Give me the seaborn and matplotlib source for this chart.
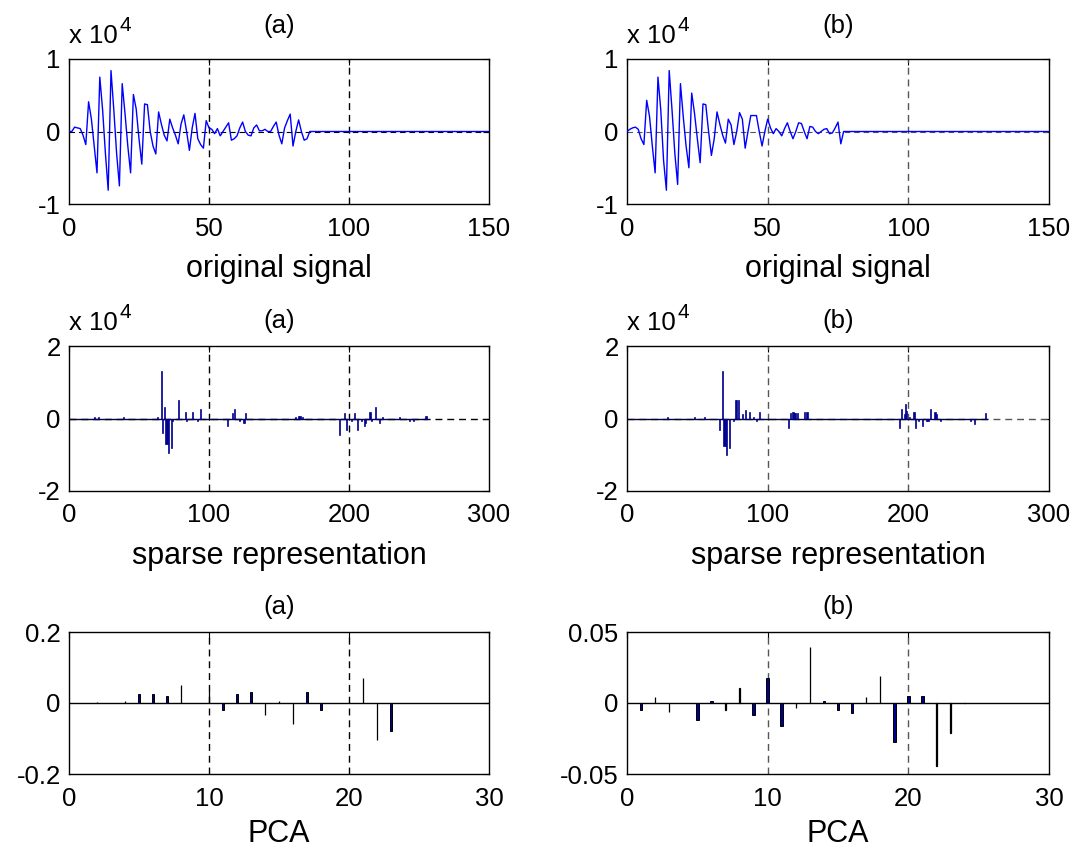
import matplotlib
matplotlib.use("Agg")
import matplotlib.pyplot as plt
import numpy as np
import seaborn as sns

W, H = 1079, 850
NAVY = "#00008F"

# original signals (x 1e4), one value per sample, zero after the last listed one
SIGNAL_LEN = 151
signal_a = [
    0.0, 0.0, 0.06, 0.05, 0.04, -0.05, -0.18, 0.41, 0.17, -0.2,
    -0.57, 0.75, 0.3, -0.3, -0.81, 0.84, 0.3, -0.3, -0.75, 0.66,
    0.25, -0.2, -0.57, 0.51, 0.31, -0.1, -0.45, 0.38, 0.37, 0.0,
    -0.2, -0.31, 0.27, 0.1, -0.05, -0.13, 0.17, 0.05, -0.05, -0.17,
    0.1, 0.23, 0.0, -0.26, 0.05, 0.25, -0.1, -0.18, -0.23, 0.15,
    0.05, 0.03, -0.03, 0.04, -0.06, 0.0, 0.06, 0.12, -0.12, -0.1,
    -0.06, 0.05, 0.13, 0.0, -0.05, -0.06, 0.05, 0.09, 0.01, 0.01,
    0.03, 0.0, 0.0, 0.07, 0.13, -0.05, -0.17, 0.05, 0.15, 0.24,
    -0.2, 0.0, 0.16, 0.0, -0.12, -0.1, 0.0,
]
signal_b = [
    0.0, 0.03, 0.05, 0.06, 0.03, -0.1, -0.18, 0.43, 0.21, -0.2,
    -0.57, 0.75, 0.3, -0.4, -0.81, 0.84, 0.3, -0.3, -0.73, 0.66,
    0.2, -0.2, -0.5, 0.53, 0.25, -0.1, -0.43, 0.38, 0.37, 0.0,
    -0.33, -0.1, 0.27, 0.1, -0.05, -0.16, 0.17, 0.09, -0.18, 0.0,
    0.26, 0.17, -0.23, 0.0, 0.22, 0.22, 0.22, 0.0, -0.2, 0.0,
    0.17, 0.05, -0.03, 0.04, 0.0, -0.06, 0.04, 0.12, 0.0, -0.1,
    0.0, 0.12, 0.11, 0.0, -0.1, 0.07, 0.06, 0.0, -0.03, 0.0,
    0.03, 0.04, -0.03, -0.02, 0.05, 0.13, -0.17, 0.0,
]

# sparse coefficients (x 1e4): index -> value, all others zero
SPARSE_LEN = 256
sparse_a_idx = [18, 21, 39, 63, 66, 67, 68, 69, 70, 71, 73, 74, 78, 83, 84, 88, 92, 94,
                113, 117, 118, 122, 125, 126, 162, 164, 165, 167,
                193, 197, 198, 202, 204, 206, 209, 211, 212, 215, 216, 219, 222, 224,
                236, 243, 246, 255]
sparse_a_val = [0.05, 0.05, 0.05, 0.055, 1.32, -0.40, 0.31, -0.70, -0.70, -0.96, -0.82, -0.08,
                0.50, 0.19, -0.08, 0.19, -0.08, 0.25,
                -0.21, 0.15, 0.25, -0.08, -0.13, 0.15, 0.05, 0.06, 0.06, 0.05,
                -0.45, 0.15, -0.33, -0.08, 0.15, -0.33, -0.06, -0.21, -0.13, 0.19, -0.08,
                0.31, -0.13, 0.05, 0.05, -0.08, -0.08, 0.07]
sparse_b_idx = [29, 48, 55, 66, 68, 69, 70, 71, 73, 76, 77, 78, 79, 82, 84, 87, 90, 92, 94,
                115, 116, 118, 119, 120, 121, 126, 128,
                194, 195, 197, 198, 199, 201, 204, 205, 207, 210, 213, 214, 216, 219, 220,
                223, 244, 247, 255]
sparse_b_val = [0.05, 0.05, 0.05, -0.33, 1.32, -0.75, -0.75, -1.0, -0.82, -0.08, 0.52, 0.52,
                0.52, 0.13, 0.24, 0.19, 0.05, -0.08, 0.19,
                -0.27, 0.15, 0.19, 0.15, 0.15, 0.15, 0.19, 0.19,
                -0.27, 0.25, 0.13, 0.39, 0.22, 0.05, 0.19, -0.27, -0.08, -0.21, -0.08,
                -0.08, 0.25, 0.19, 0.13, -0.08, -0.08, -0.15, 0.15]

# PCA coefficients, components 1..30
pca_a = [0.0, 0.004, 0.0, 0.005, 0.026, 0.026, 0.019, 0.051, 0.0, 0.035,
         -0.021, 0.026, 0.032, -0.035, 0.006, -0.059, 0.032, -0.021, 0.0, 0.0,
         0.07, -0.104, -0.079, 0.0, 0.0, 0.0, 0.0, 0.0, 0.0, 0.0]
pca_b = [-0.0052, 0.0045, -0.0066, 0.0, -0.0117, 0.0016, -0.0049, 0.0108, -0.0087, 0.0178,
         -0.0164, -0.0037, 0.0396, 0.0016, -0.0049, -0.0068, 0.0045, 0.0192, -0.0276, 0.0049,
         0.0049, -0.0447, -0.0208, 0.0, 0.0, 0.0, 0.0, 0.0, 0.0, 0.0]
# components drawn as filled bars, the rest render as hairlines
pca_a_thick = [5, 6, 7, 11, 12, 13, 17, 18, 23]
pca_b_thick = [1, 5, 6, 9, 10, 11, 14, 15, 16, 19, 20, 21]

TICK_FS = 18.5
LABEL_FS = 22


def make_axes(fig, left, top, width, height):
    return fig.add_axes([left / W, 1 - (top + height) / H, width / W, height / H])


def style_axes(ax, xlim, xticks, ylim, yticks, ylabels, vlines, dash_color, title, title_pad,
               xlabel, labelpad=10):
    ax.set_xlim(*xlim)
    ax.set_ylim(*ylim)
    ax.set_xticks(xticks)
    ax.set_xticklabels([str(t) for t in xticks])
    ax.set_yticks(yticks)
    ax.set_yticklabels(ylabels)
    for v in vlines:
        ax.axvline(v, color=dash_color, lw=1.0, dashes=(5, 3.5), zorder=1)
    ax.tick_params(axis="both", direction="in", length=4, width=0.8, top=True, right=True,
                   labelsize=TICK_FS, colors="black")
    ax.tick_params(axis="x", pad=9)
    ax.tick_params(axis="y", pad=6)
    for s in ax.spines.values():
        s.set_visible(True)
        s.set_color("black")
        s.set_linewidth(1.0)
    ax.set_title(title, fontsize=TICK_FS, pad=title_pad, color="black")
    ax.set_xlabel(xlabel, fontsize=LABEL_FS, labelpad=labelpad, color="black")
    ax.grid(False)


def add_exponent(ax, height):
    t = ax.text(0.0, 1 + 16 / height, "x 10", transform=ax.transAxes, fontsize=TICK_FS,
                ha="left", va="baseline", color="black")
    ax.annotate("4", xy=(1, 1), xycoords=t, xytext=(1.5, -1), textcoords="offset points",
                fontsize=15, ha="left", va="center", color="black")


def plot_signal(ax, values, dash_color):
    y = np.concatenate([values, np.zeros(SIGNAL_LEN - len(values))])
    ax.axhline(0, color=dash_color, lw=0.8, dashes=(5, 3.5), zorder=1)
    sns.lineplot(x=np.arange(SIGNAL_LEN), y=y, color="#0000FF", lw=1.0,
                 estimator=None, sort=False, ax=ax, zorder=3)


def plot_sparse(ax, idx, vals, dash_color):
    y = np.zeros(SPARSE_LEN)
    y[np.array(idx) - 1] = vals
    pos = np.arange(1, SPARSE_LEN + 1)
    ax.axhline(0, color=dash_color, lw=1.0, dashes=(5, 3.5), zorder=1)
    # bar baseline over the coefficient range
    ax.plot(np.concatenate([[0], pos]), np.zeros(SPARSE_LEN + 1), color="black", lw=1.0, zorder=2)
    ax.bar(pos, y, width=0.8, color=NAVY, edgecolor=NAVY, linewidth=0.5, zorder=3)


def plot_pca(ax, vals, thick):
    x = np.arange(1, len(vals) + 1)
    y = np.array(vals)
    mask = np.isin(x, thick)
    ax.axhline(0, color="black", lw=1.0, zorder=2)
    ax.bar(x[~mask], y[~mask], width=0.02, color="black", edgecolor="black",
           linewidth=0.9, zorder=3)
    ax.bar(x[mask], y[mask], width=0.2, color=NAVY, edgecolor="black",
           linewidth=0.7, zorder=3)


def main():
    sns.set_style("white")
    plt.rcParams["font.family"] = ["Liberation Sans", "DejaVu Sans"]
    plt.rcParams["axes.unicode_minus"] = False
    plt.rcParams["text.color"] = "black"
    plt.rcParams["axes.labelcolor"] = "black"
    plt.rcParams["xtick.color"] = "black"
    plt.rcParams["ytick.color"] = "black"

    fig = plt.figure(figsize=(W / 100, H / 100), dpi=100)
    fig.patch.set_facecolor("white")

    cols = [(69, 420, "black", "(a)"), (627, 422, "#555555", "(b)")]
    rows = [(59, 145), (346, 145), (632, 142)]
    signals = [signal_a, signal_b]
    sparse = [(sparse_a_idx, sparse_a_val), (sparse_b_idx, sparse_b_val)]
    pcas = [(pca_a, pca_a_thick, [-0.2, 0, 0.2], ["-0.2", "0", "0.2"]),
            (pca_b, pca_b_thick, [-0.05, 0, 0.05], ["-0.05", "0", "0.05"])]

    for c, (left, width, dash_color, tag) in enumerate(cols):
        top, height = rows[0]
        ax = make_axes(fig, left, top, width, height)
        plot_signal(ax, signals[c], dash_color)
        style_axes(ax, (0, 150), [0, 50, 100, 150], (-1, 1), [-1, 0, 1], ["-1", "0", "1"],
                   [50, 100], dash_color, tag, 19, "original signal")
        add_exponent(ax, height)

        top, height = rows[1]
        ax = make_axes(fig, left, top, width, height)
        plot_sparse(ax, *sparse[c], dash_color)
        style_axes(ax, (0, 300), [0, 100, 200, 300], (-2, 2), [-2, 0, 2], ["-2", "0", "2"],
                   [100, 200], dash_color, tag, 13, "sparse representation")
        add_exponent(ax, height)

        top, height = rows[2]
        ax = make_axes(fig, left, top, width, height)
        vals, thick, yt, yl = pcas[c]
        plot_pca(ax, vals, thick)
        style_axes(ax, (0, 30), [0, 10, 20, 30], (yt[0], yt[-1]), yt, yl,
                   [10, 20], dash_color, tag, 13, "PCA", labelpad=6)

    fig.savefig("out.png", dpi=100, facecolor="white")
    plt.close(fig)


if __name__ == "__main__":
    main()
